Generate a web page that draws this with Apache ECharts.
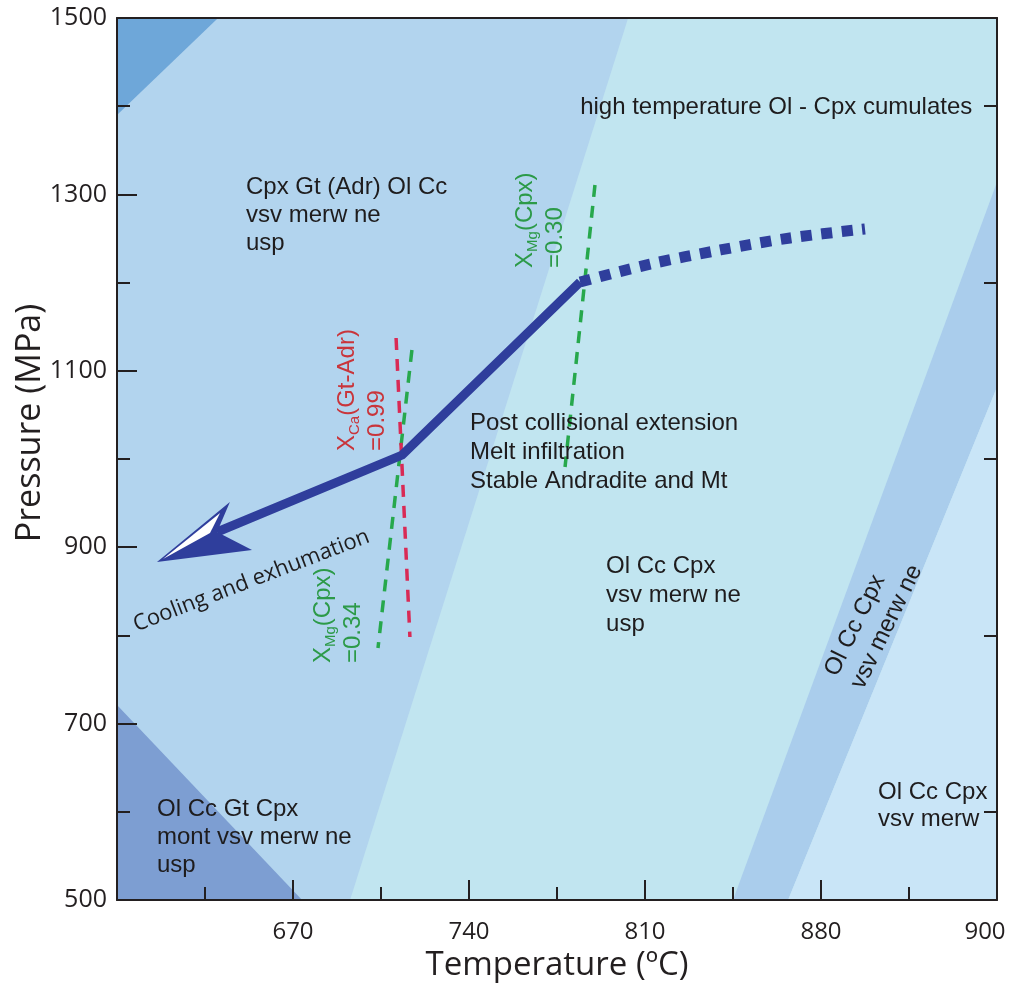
<!DOCTYPE html>
<html><head><meta charset="utf-8">
<script src="https://cdn.jsdelivr.net/npm/echarts@6/dist/echarts.min.js"></script>
<style>html,body{margin:0;padding:0;background:#fff;overflow:hidden}#c{width:1013px;height:993px}</style>
</head><body><div id="c"></div>
<script>
// ---- tick labels ----
const tempTickLabels = ['', '670', '740', '810', '880', '900'];
const pressureTickLabels = ['500', '700', '900', '1100', '1300', '1500'];

// ---- stability fields (T in °C, P in MPa) ----
const fieldMain = [[600,500],[950,500],[950,1500],[600,1500]];
const fieldCyan = [[692.7,500],[803.3,1500],[950,1500],[950,500]];
const fieldStrip = [[845,500],[950,1314],[950,1081.6],[866.9,500]];
const fieldRight = [[866.9,500],[950,1081.6],[950,500]];
const fieldTopLeft = [[600,1500],[640.2,1500],[600,1390]];
const fieldBottomLeft = [[600,500],[600,721],[673.6,500]];

// ---- P-T path ----
const pathSolid = [[639.8,917.2],[713.4,1004.5],[784.2,1200.7]];
const pathDashed = [[784.2,1200.7],[812,1221],[840,1237],[867.7,1250.6],[897.5,1260.8]];
const arrowHead = [[615.9,883.2],[644.9,951.2],[639.8,917.2],[653.7,896.8]];
const arrowHeadInner = [[618.3,886.6],[641,938.8],[637,916.1]];

// ---- isopleths ----
const isoXCa099 = [[711,1137.2],[716.5,798.2]];
const isoXMg034 = [[717.3,1123.6],[703.8,785.7]];
const isoXMg030 = [[790.1,1310.7],[778.2,990.9]];

// ---- annotations ----
const labelTexts = [
  'Cpx Gt (Adr) Ol Cc\nvsv merw ne\nusp',
  'high temperature Ol - Cpx cumulates',
  'Post collisional extension\nMelt infiltration\nStable Andradite and Mt',
  'Ol Cc Cpx\nvsv merw ne\nusp',
  'Ol Cc Cpx\nvsv merw',
  'Ol Cc Gt Cpx\nmont vsv merw ne\nusp',
  'Ol Cc Cpx\nvsv merw ne',
  'Cooling and exhumation',
  'X{sub|Ca}(Gt-Adr)\n=0.99',
  'X{sub|Mg}(Cpx)\n=0.34',
  'X{sub|Mg}(Cpx)\n=0.30'
];
const labelAnchors = [
  [651.3,1323.7],[784.2,1414],[740.4,1057],[794.5,894.6],[902.7,637.8],[615.9,618.5],
  [889.2,748.3],[653.5,862],[697.5,1009.1],[687.9,768.7],[768.3,1216.6]
];

// ---- styles (kept apart from the data) ----
const fieldList = [fieldMain, fieldCyan, fieldStrip, fieldRight, fieldTopLeft, fieldBottomLeft];
const fieldColors = ['#b2d4ee', '#c1e5f0', '#aacdec', '#c9e5f7', '#6ea7d9', '#7d9ed2'];
const TXT = '#1e1c1d', BLUE = '#2f3e9c', RED_T = '#c9353b', GREEN_T = '#2c9a48';
const ARIAL = '"Liberation Sans", Arial, sans-serif';
const MYRIAD = '"Open Sans", sans-serif';
const labelStyles = [
  {rot:0, align:'left', va:'top', color:TXT, family:ARIAL, size:24, lh:28},
  {rot:0, align:'left', va:'top', color:TXT, family:ARIAL, size:24, lh:28},
  {rot:0, align:'left', va:'top', color:TXT, family:ARIAL, size:24, lh:29},
  {rot:0, align:'left', va:'top', color:TXT, family:ARIAL, size:24, lh:29},
  {rot:0, align:'left', va:'top', color:TXT, family:ARIAL, size:24, lh:27},
  {rot:0, align:'left', va:'top', color:TXT, family:ARIAL, size:24, lh:28},
  {rot:64, align:'left', va:'middle', color:TXT, family:ARIAL, size:24, lh:29},
  {rot:21, align:'center', va:'middle', color:TXT, family:MYRIAD, size:22, lh:26},
  {rot:90, align:'left', va:'middle', color:RED_T, family:ARIAL, size:24, lh:30},
  {rot:90, align:'left', va:'middle', color:GREEN_T, family:ARIAL, size:24, lh:30},
  {rot:90, align:'left', va:'middle', color:GREEN_T, family:ARIAL, size:24, lh:30}
];

const chart = echarts.init(document.getElementById('c'), null, {renderer: 'canvas', width: 1013, height: 993});
const axisCol = '#231f20';

function polySeries(list, colors, z) {
  return {
    type: 'custom', coordinateSystem: 'cartesian2d', silent: true, z: z, clip: true,
    data: list.map(p => p[0]),
    renderItem: (params, api) => ({
      type: 'polygon',
      shape: {points: list[params.dataIndex].map(p => api.coord(p))},
      style: {fill: colors[params.dataIndex], stroke: null}
    })
  };
}

const option = {
  animation: false,
  backgroundColor: '#ffffff',
  grid: {left: 117, top: 18, width: 880, height: 882, containLabel: false, outerBoundsMode: 'none'},
  xAxis: [{
    type: 'value', min: 600, max: 950, interval: 70, z: 10,
    axisLine: {show: true, lineStyle: {color: axisCol, width: 2}},
    axisTick: {show: true, inside: true, length: 20, lineStyle: {color: axisCol, width: 2}},
    minorTick: {show: true, splitNumber: 2, length: 13, lineStyle: {color: axisCol, width: 2}},
    splitLine: {show: false}, minorSplitLine: {show: false},
    axisLabel: {margin: 20, color: axisCol, fontFamily: MYRIAD, fontSize: 24,
      formatter: v => {
        const i = Math.round((v - 600) / 70);
        const t = tempTickLabels[i] || '';
        return i === tempTickLabels.length - 1 ? '{last|' + t + '}' : t;
      },
      rich: {last: {padding: [0, 24, 0, 0], color: axisCol, fontFamily: MYRIAD, fontSize: 24}}}
  }, {
    type: 'value', position: 'top', min: 600, max: 950, interval: 70, z: 10,
    axisLine: {show: true, onZero: false, lineStyle: {color: axisCol, width: 2}},
    axisTick: {show: false}, axisLabel: {show: false}, splitLine: {show: false}
  }],
  yAxis: [{
    type: 'value', min: 500, max: 1500, interval: 200, z: 10,
    axisLine: {show: true, lineStyle: {color: axisCol, width: 2}},
    axisTick: {show: true, inside: true, length: 20, lineStyle: {color: axisCol, width: 2}},
    minorTick: {show: true, splitNumber: 2, length: 13, lineStyle: {color: axisCol, width: 2}},
    splitLine: {show: false}, minorSplitLine: {show: false},
    axisLabel: {margin: 10, color: axisCol, fontFamily: MYRIAD, fontSize: 25,
      formatter: v => pressureTickLabels[Math.round((v - 500) / 200)] || ''}
  }, {
    type: 'value', position: 'right', min: 500, max: 1500, interval: 200, z: 10,
    axisLine: {show: true, onZero: false, lineStyle: {color: axisCol, width: 2}},
    axisTick: {show: true, inside: true, length: 13, customValues: [600, 800, 1000, 1200, 1400],
      lineStyle: {color: axisCol, width: 2}},
    axisLabel: {show: false}, splitLine: {show: false}
  }],
  graphic: [
    {type: 'text', x: 30, y: 423, rotation: Math.PI / 2, z: 20,
      style: {text: 'Pressure (MPa)', fill: axisCol, font: '34px "Open Sans", sans-serif', align: 'center', verticalAlign: 'middle'}},
    {type: 'text', x: 557, y: 966, z: 20,
      style: {text: 'Temperature (ºC)', fill: axisCol, font: '33px "Open Sans", sans-serif', align: 'center', verticalAlign: 'middle'}}
  ],
  series: [
    polySeries(fieldList, fieldColors, 1),
    {type: 'line', data: isoXMg034, symbol: 'none', z: 3, silent: true,
      lineStyle: {color: '#27a84c', width: 3.5, type: [12, 9], cap: 'butt'}},
    {type: 'line', data: isoXCa099, symbol: 'none', z: 3, silent: true,
      lineStyle: {color: '#d92a55', width: 3.5, type: [12, 9], cap: 'butt'}},
    {type: 'line', data: isoXMg030, symbol: 'none', z: 3, silent: true,
      lineStyle: {color: '#27a84c', width: 3.5, type: [12, 9], cap: 'butt'}},
    {type: 'line', data: pathSolid, symbol: 'none', z: 4, silent: true,
      lineStyle: {color: BLUE, width: 9, join: 'miter', cap: 'butt'}},
    {type: 'line', data: pathDashed, symbol: 'none', z: 4, silent: true, smooth: 0.3,
      lineStyle: {color: BLUE, width: 11, type: [11, 9.5], cap: 'butt'}},
    polySeries([arrowHead, arrowHeadInner], [BLUE, '#ffffff'], 5),
    {
      type: 'custom', coordinateSystem: 'cartesian2d', silent: true, z: 6, clip: false,
      data: labelAnchors,
      renderItem: (params, api) => {
        const i = params.dataIndex, s = labelStyles[i];
        const p = api.coord(labelAnchors[i]);
        return {
          type: 'text', x: p[0], y: p[1], rotation: s.rot * Math.PI / 180,
          style: {
            text: labelTexts[i], fill: s.color, fontFamily: s.family, fontSize: s.size,
            lineHeight: s.lh, align: s.align, verticalAlign: s.va,
            rich: {sub: {fontFamily: s.family, fontSize: 15, lineHeight: 20, verticalAlign: 'bottom', fill: s.color}}
          }
        };
      }
    }
  ]
};
chart.setOption(option);
</script></body></html>
